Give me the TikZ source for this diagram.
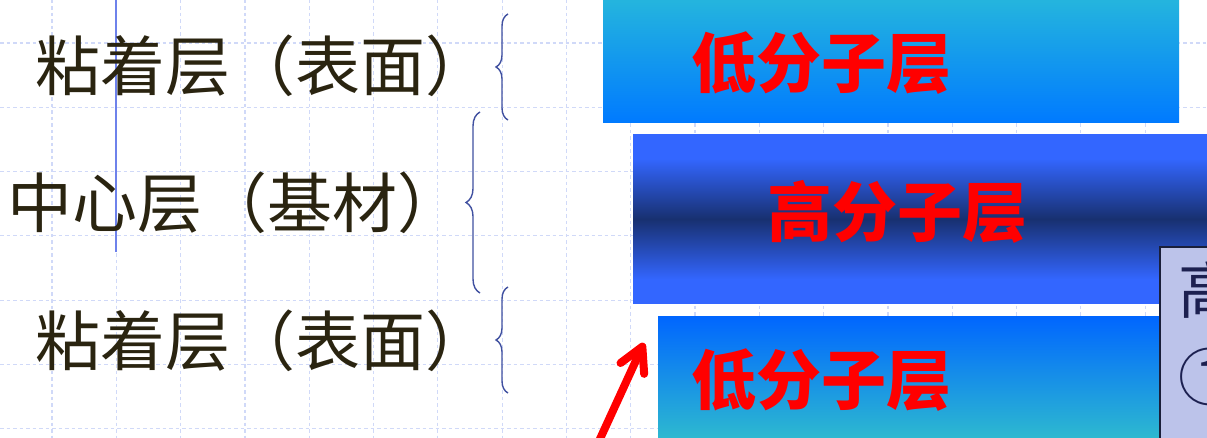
\documentclass[tikz,border=0pt]{standalone}
\usepackage{fontspec}
\newfontfamily\cjk{Noto Sans CJK SC}
\usetikzlibrary{decorations.pathreplacing,arrows.meta}
\definecolor{gridc}{RGB}{208,217,248}
\definecolor{vline}{RGB}{110,130,235}
\definecolor{lefttext}{RGB}{42,36,16}
\definecolor{bracec}{RGB}{64,80,160}
\definecolor{cyanA}{RGB}{36,180,222}
\definecolor{blueA}{RGB}{0,122,255}
\definecolor{blueB}{RGB}{51,102,255}
\definecolor{navyB}{RGB}{24,48,112}
\definecolor{blueC}{RGB}{0,102,255}
\definecolor{cyanC}{RGB}{46,186,207}
\definecolor{lav}{RGB}{188,195,234}
\definecolor{lavedge}{RGB}{26,31,58}
\definecolor{navytext}{RGB}{28,32,80}
\pgfdeclareverticalshading{midnavy}{100bp}{color(0bp)=(blueB); color(32bp)=(blueB); color(50bp)=(navyB); color(68bp)=(blueB); color(100bp)=(blueB)}
\tikzset{
  lefttxt/.style={font=\cjk\fontsize{65}{78}\selectfont, text=lefttext, anchor=base west, inner sep=0pt},
  redtxt/.style={font=\cjk\bfseries\fontsize{65}{78}\selectfont, text=red, anchor=base west, inner sep=0pt},
  navytxt/.style={font=\cjk\fontsize{62}{74}\selectfont, text=navytext, anchor=base west, inner sep=0pt},
  gridline/.style={draw=gridc, line width=1.2pt, dash pattern=on 3.5pt off 3pt},
  bracedraw/.style={draw=bracec, line width=1.4pt, decorate, decoration={brace, amplitude=#1}},
  layerbox/.style={inner sep=0pt, outer sep=0pt, anchor=north west},
}
\begin{document}
\begin{tikzpicture}[x=1pt,y=-1pt]
\useasboundingbox (0,0) rectangle (1207,438);
\clip (0,0) rectangle (1207,438);
\fill[white] (0,0) rectangle (1207,438);
% grid
\foreach \i in {0,...,17} \draw[gridline] ({52+64.3*\i},0) -- ({52+64.3*\i},438);
\foreach \j in {0,...,6} \draw[gridline] (0,{43+64.3*\j}) -- (1207,{43+64.3*\j});
% vertical blue line
\coordinate (vt) at (116,0);
\coordinate (vb) at (116,252);
\draw[vline, line width=2pt] (vt) -- (vb);
% left texts
\node[lefttxt] (t1) at (35,91) {粘着层（表面）};
\node[lefttxt] (t2) at (7,228) {中心层（基材）};
\node[lefttxt] (t3) at (35,365) {粘着层（表面）};
% braces
\coordinate (b1t) at (508,14);  \coordinate (b1b) at (508,120);
\coordinate (b2t) at (480,112); \coordinate (b2b) at (480,293);
\coordinate (b3t) at (508,287); \coordinate (b3b) at (508,393);
\draw[bracedraw=12pt] (b1b) -- (b1t);
\draw[bracedraw=14pt] (b2b) -- (b2t);
\draw[bracedraw=12pt] (b3b) -- (b3t);
% layer boxes
\node[layerbox, minimum width=576pt, minimum height=122pt, top color=cyanA, bottom color=blueA] (box1) at (603,1) {};
\node[layerbox, minimum width=590pt, minimum height=168pt, shading=midnavy] (box2) at (633,135) {};
\node[layerbox, minimum width=510pt, minimum height=124pt, top color=blueC, bottom color=cyanC] (box3) at (658,316) {};
\node[layerbox, minimum width=60pt, minimum height=200pt, fill=lav, draw=lavedge, line width=1.5pt] (box4) at (1160,247) {};
% layer texts
\node[redtxt] (l1) at (691,88) {低分子层};
\node[redtxt] (l2) at (767,237) {高分子层};
\node[redtxt] (l3) at (691,404) {低分子层};
\node[navytxt] (n1) at (1178,313) {高};
\node[navytxt] (n2) at (1178,400) {①};
% red arrow
\coordinate (as) at (594,452);
\coordinate (ae) at (644,343);
\draw[red, line width=8pt, line cap=round, -{Straight Barb[length=24pt, width=26pt, round]}] (as) -- (ae);
\end{tikzpicture}
\end{document}
